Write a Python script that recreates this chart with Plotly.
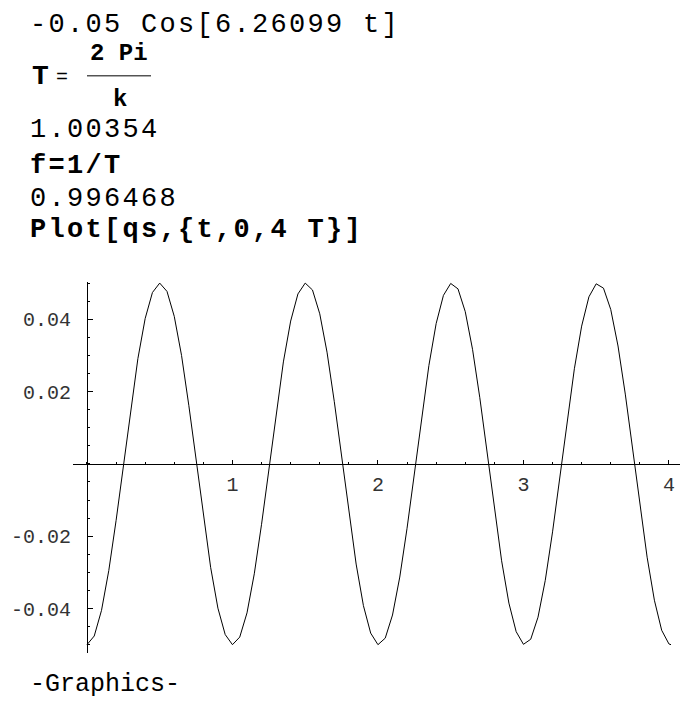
import plotly.graph_objects as go

# ---- data ----
t_vals = [0.00, 0.05, 0.10, 0.15, 0.20, 0.25, 0.30, 0.35, 0.40, 0.45,
          0.50, 0.55, 0.60, 0.65, 0.70, 0.75, 0.80, 0.85, 0.90, 0.95,
          1.00, 1.05, 1.10, 1.15, 1.20, 1.25, 1.30, 1.35, 1.40, 1.45,
          1.50, 1.55, 1.60, 1.65, 1.70, 1.75, 1.80, 1.85, 1.90, 1.95,
          2.00, 2.05, 2.10, 2.15, 2.20, 2.25, 2.30, 2.35, 2.40, 2.45,
          2.50, 2.55, 2.60, 2.65, 2.70, 2.75, 2.80, 2.85, 2.90, 2.95,
          3.00, 3.05, 3.10, 3.15, 3.20, 3.25, 3.30, 3.35, 3.40, 3.45,
          3.50, 3.55, 3.60, 3.65, 3.70, 3.75, 3.80, 3.85, 3.90, 3.95,
          4.00, 4.01416]
qs_vals = [-0.0500, -0.0476, -0.0405, -0.0295, -0.0157, -0.0003, 0.0151, 0.0291, 0.0402, 0.0474,
           0.0500, 0.0477, 0.0408, 0.0300, 0.0162, 0.0008, -0.0146, -0.0286, -0.0399, -0.0472,
           -0.0500, -0.0479, -0.0412, -0.0304, -0.0167, -0.0014, 0.0141, 0.0282, 0.0395, 0.0470,
           0.0500, 0.0481, 0.0415, 0.0309, 0.0172, 0.0020, -0.0135, -0.0277, -0.0392, -0.0468,
           -0.0500, -0.0482, -0.0418, -0.0313, -0.0178, -0.0025, 0.0130, 0.0272, 0.0388, 0.0466,
           0.0499, 0.0484, 0.0421, 0.0317, 0.0183, 0.0031, -0.0124, -0.0268, -0.0385, -0.0464,
           -0.0499, -0.0485, -0.0424, -0.0322, -0.0188, -0.0036, 0.0119, 0.0263, 0.0381, 0.0462,
           0.0498, 0.0486, 0.0427, 0.0326, 0.0193, 0.0042, -0.0114, -0.0258, -0.0377, -0.0460,
           -0.0498, -0.0500]
x_tick_vals = [1, 2, 3, 4]
x_tick_text = ["1", "2", "3", "4"]
y_tick_vals = [-0.04, -0.02, 0.02, 0.04]
y_tick_text = ["-0.04", "-0.02", "0.02", "0.04"]

X_RANGE = [-0.096, 4.076]
Y_RANGE = [-0.0523, 0.0503]

W, H = 681, 701
L, R, TOP, BOT = 73, 680, 282, 652.7


def px(x):
    return (x - L) / (R - L)


def py(y):
    return (BOT - y) / (BOT - TOP)


fig = go.Figure()
fig.add_trace(go.Scatter(x=t_vals, y=qs_vals, mode="lines",
                         line=dict(color="black", width=1), hoverinfo="skip"))

tick_font = dict(family="Liberation Mono", size=20, color="#333")
fig.update_layout(
    width=W, height=H,
    margin=dict(l=L, r=W - R, t=TOP, b=H - BOT),
    paper_bgcolor="white", plot_bgcolor="white",
    showlegend=False,
    xaxis=dict(range=X_RANGE, anchor="free",
               position=(0 - Y_RANGE[0]) / (Y_RANGE[1] - Y_RANGE[0]),
               showline=True, linecolor="black", linewidth=1,
               showgrid=False, zeroline=False,
               tickmode="array", tickvals=x_tick_vals, ticktext=x_tick_text,
               ticks="inside", ticklen=4, tickcolor="black", tickwidth=1,
               ticklabelstandoff=2, tickfont=tick_font,
               minor=dict(tickmode="linear", tick0=0, dtick=0.2, ticks="inside",
                          ticklen=2, tickcolor="black", showgrid=False)),
    yaxis=dict(range=Y_RANGE, anchor="free",
               position=(0 - X_RANGE[0]) / (X_RANGE[1] - X_RANGE[0]),
               showline=True, linecolor="black", linewidth=1,
               showgrid=False, zeroline=False,
               tickmode="array", tickvals=y_tick_vals, ticktext=y_tick_text,
               ticks="inside", ticklen=5, tickcolor="black", tickwidth=1,
               ticklabelstandoff=12, tickfont=tick_font,
               minor=dict(tickmode="linear", tick0=0, dtick=0.005, ticks="inside",
                          ticklen=2, tickcolor="black", showgrid=False)),
)

SP = "letter-spacing:2.3px"


def txt(s, x, y, size=27, bold=False, spacing=True, family="Liberation Mono", anchor="left"):
    t = f'<span style="{SP}">{s}</span>' if spacing else s
    if bold:
        t = f"<b>{t}</b>"
    fig.add_annotation(text=t, x=px(x), y=py(y), xref="paper", yref="paper",
                       xanchor=anchor, yanchor="middle", showarrow=False,
                       font=dict(family=family, size=size, color="black"))


txt("-0.05 Cos[6.26099 t]", 28, 25)
txt("T", 30, 77, size=28, bold=True, spacing=False)
txt("=", 54, 78, size=20, spacing=False)
txt("2 Pi", 119, 54, size=24, bold=True, spacing=False, anchor="center")
txt("k", 120, 100, size=24, bold=True, spacing=False, anchor="center")
txt("1.00354", 28, 130)
txt("f=1/T", 28, 166, bold=True)
txt("0.996468", 28, 199)
txt("Plot[qs,{t,0,4 T}]", 28, 230, bold=True)
txt("-Graphics-", 28, 684, size=25, spacing=False)

fig.add_shape(type="line", xref="paper", yref="paper",
              x0=px(87), x1=px(151), y0=py(76), y1=py(76),
              line=dict(color="black", width=1))

fig.write_html("out.html")
